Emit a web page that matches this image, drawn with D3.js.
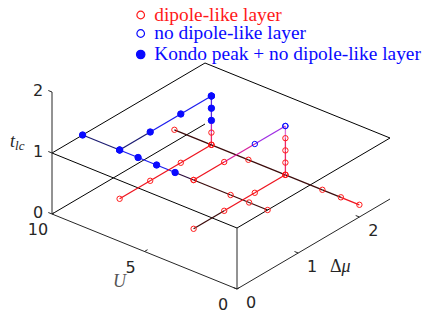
<!DOCTYPE html>
<html>
<head>
<meta charset="utf-8">
<script src="https://cdn.jsdelivr.net/npm/d3@7"></script>
<style>
  html, body { margin: 0; padding: 0; background: #fff; }
  svg { display: block; }
</style>
</head>
<body>
<svg id="chart" width="432" height="310"></svg>
<script>
// phase diagram in (U, Δμ, t_lc) — orthographic 3D view

const U_DOMAIN = [0, 10];
const DMU_DOMAIN = [0, 2.5];
const T_DOMAIN = [0, 2];
const U_TICKS = [0, 5, 10];
const DMU_TICKS = [0, 1, 2];
const T_TICKS = [0, 1, 2];

// state codes: d = dipole-like layer, n = no dipole-like layer, k = Kondo peak + no dipole-like layer
const LEGEND_STATES = ['d', 'n', 'k'];
const LEGEND_LABELS = ['dipole-like layer', 'no dipole-like layer', 'Kondo peak + no dipole-like layer'];

// t_lc = 1, Δμ = 0.5, along U
const cutA_U = [10, 8, 7, 6, 5, 4, 2, 1, 0];
const cutA_state = ['k', 'k', 'k', 'k', 'k', 'd', 'd', 'd', 'd'];
// t_lc = 1, U = 8, along Δμ
const cutB_dmu = [0.5, 1, 1.5, 2];
const cutB_state = ['k', 'k', 'k', 'k'];
// U = 8, Δμ = 2, along t_lc
const cutC_t = [1, 0.8, 0.6, 0.4, 0.2];
const cutC_state = ['k', 'k', 'k', 'd', 'd'];
// t_lc = 0.2, U = 8, along Δμ
const cutD_dmu = [0.5, 1, 1.5, 2];
const cutD_state = ['d', 'd', 'd', 'd'];
// t_lc = 0.2, Δμ = 2, along U
const cutE_U = [10, 8, 6, 4, 2, 1, 0];
const cutE_state = ['d', 'd', 'd', 'd', 'd', 'd', 'd'];
// t_lc = 1, U = 4, along Δμ
const cutF_dmu = [0.5, 1, 1.5, 2];
const cutF_state = ['d', 'd', 'n', 'n'];
// U = 4, Δμ = 2, along t_lc
const cutG_t = [1, 0.8, 0.6, 0.4, 0.2];
const cutG_state = ['n', 'd', 'd', 'd', 'd'];
// t_lc = 0.2, U = 4, along Δμ
const cutH_dmu = [0.5, 1, 1.5, 2];
const cutH_state = ['d', 'd', 'd', 'd'];

const svg = d3.select('#chart');

// projection
const O = [237, 289];
const uX = d3.scaleLinear().domain(U_DOMAIN).range([0, -185]);
const uY = d3.scaleLinear().domain(U_DOMAIN).range([0, -75]);
const dX = d3.scaleLinear().domain(DMU_DOMAIN).range([0, 153]);
const dY = d3.scaleLinear().domain(DMU_DOMAIN).range([0, -90]);
const tY = d3.scaleLinear().domain(T_DOMAIN).range([0, -122]);
const P = (u, m, t) => [O[0] + uX(u) + dX(m), O[1] + uY(u) + dY(m) + tY(t)];

const line = d3.line();
const AX = '#262626';

// frame: t_lc = 1 plane and back floor edge
const Umax = U_DOMAIN[1], Mmax = DMU_DOMAIN[1];
const frame = [
  [[0, 0, 1], [Umax, 0, 1]],
  [[Umax, 0, 1], [Umax, Mmax, 1]],
  [[Umax, Mmax, 1], [0, Mmax, 1]],
  [[0, Mmax, 1], [0, 0, 1]],
  [[Umax, 0, 0], [Umax, Mmax, 0]]
];
svg.append('g').selectAll('path')
  .data(frame)
  .join('path')
  .attr('d', d => line(d.map(p => P(...p))))
  .attr('fill', 'none').attr('stroke', '#000').attr('stroke-width', 1);

const axes = [
  [[0, 0, 0], [Umax, 0, 0]],
  [[0, 0, 0], [0, Mmax, 0]],
  [[Umax, 0, 0], [Umax, 0, T_DOMAIN[1]]],
  [[0, 0, 0], [0, 0, 1]]
];
svg.append('g').selectAll('path')
  .data(axes)
  .join('path')
  .attr('d', d => line(d.map(p => P(...p))))
  .attr('fill', 'none').attr('stroke', AX).attr('stroke-width', 1);

// ticks
const ticks = [
  ...U_TICKS.map(u => [P(u, 0, 0), P(u, 0.05, 0)]),
  ...DMU_TICKS.map(m => [P(0, m, 0), P(0.2, m, 0)]),
  ...T_TICKS.map(t => [P(Umax, 0, t), P(Umax + 0.2, 0, t)])
];
svg.append('g').selectAll('path')
  .data(ticks)
  .join('path')
  .attr('d', d => line(d))
  .attr('stroke', AX).attr('stroke-width', 1);

const tickFont = '"DejaVu Sans", sans-serif';
const tickLabels = [
  ...U_TICKS.map(u => ({ p: P(u, 0, 0), dx: -14, dy: 15.5, s: u })),
  ...DMU_TICKS.map(m => ({ p: P(0, m, 0), dx: 14, dy: 13.5, s: m })),
  ...T_TICKS.map(t => ({ p: P(Umax, 0, t), dx: -14, dy: -2, s: t }))
];
svg.append('g').selectAll('text')
  .data(tickLabels)
  .join('text')
  .attr('x', d => d.p[0] + d.dx)
  .attr('y', d => d.p[1] + d.dy + 5.8)
  .attr('text-anchor', 'middle')
  .attr('font-family', tickFont)
  .attr('font-size', 16)
  .attr('fill', AX)
  .text(d => d.s);

// axis labels
const serif = '"Liberation Serif", "Times New Roman", serif';
const tl = svg.append('text').attr('x', 10).attr('y', 147)
  .attr('font-family', serif).attr('font-size', 18).attr('fill', AX);
tl.append('tspan').attr('font-style', 'italic').text('t');
tl.append('tspan').attr('font-style', 'italic').attr('font-size', 13).attr('dy', 3).text('lc');

svg.append('text').attr('x', 113).attr('y', 287)
  .attr('font-family', serif).attr('font-size', 18).attr('font-style', 'italic')
  .attr('fill', '#555').text('U');

const dm = svg.append('text').attr('x', 330).attr('y', 272)
  .attr('font-family', serif).attr('font-size', 18).attr('fill', AX);
dm.append('tspan').text('Δ');
dm.append('tspan').attr('font-style', 'italic').text('μ');

// data cuts
const cuts = [
  { pts: cutA_U.map((u, i) => [u, 0.5, 1, cutA_state[i]]), dark: [0, 4, 5, 6, 7] },
  { pts: cutB_dmu.map((m, i) => [8, m, 1, cutB_state[i]]), dark: [0] },
  { pts: cutC_t.map((t, i) => [8, 2, t, cutC_state[i]]), vert: true },
  { pts: cutD_dmu.map((m, i) => [8, m, 0.2, cutD_state[i]]) },
  { pts: cutE_U.map((u, i) => [u, 2, 0.2, cutE_state[i]]), dark: [0, 1, 2, 3, 4] },
  { pts: cutF_dmu.map((m, i) => [4, m, 1, cutF_state[i]]) },
  { pts: cutG_t.map((t, i) => [4, 2, t, cutG_state[i]]), vert: true },
  { pts: cutH_dmu.map((m, i) => [4, m, 0.2, cutH_state[i]]), dark: [0] }
];

function segColor(a, b, dark, vert) {
  const k = [a, b].sort().join('');
  if (vert) {
    if (k === 'kk') return '#5a28e0';
    if (k === 'dk') return '#c02cc0';
    if (k === 'dn') return '#e070d8';
    return '#ee2a68';
  }
  if (k === 'kk') return dark ? '#1c1c72' : '#1e1eee';
  if (k === 'dd') return dark ? '#3c0c0c' : '#ee1520';
  if (k === 'dk') return '#2c0c3c';
  if (k === 'dn') return '#d6229c';
  return '#a030e4';
}

const segs = [];
cuts.forEach(c => {
  for (let i = 0; i < c.pts.length - 1; i++) {
    const a = c.pts[i], b = c.pts[i + 1];
    segs.push({
      a: P(a[0], a[1], a[2]), b: P(b[0], b[1], b[2]),
      col: segColor(a[3], b[3], (c.dark || []).includes(i), c.vert)
    });
  }
});
svg.append('g').selectAll('line')
  .data(segs)
  .join('line')
  .attr('x1', d => d.a[0]).attr('y1', d => d.a[1])
  .attr('x2', d => d.b[0]).attr('y2', d => d.b[1])
  .attr('stroke', d => d.col).attr('stroke-width', 1.3);

const RED = '#ff1a1a', BLUE = '#0a0aff';
const pts = cuts.flatMap(c => c.pts.map(p => ({ p: P(p[0], p[1], p[2]), s: p[3] })));
svg.append('g').selectAll('circle')
  .data(pts)
  .join('circle')
  .attr('cx', d => d.p[0]).attr('cy', d => d.p[1])
  .attr('r', d => d.s === 'k' ? 3.2 : 2.7)
  .attr('fill', d => d.s === 'k' ? BLUE : 'none')
  .attr('stroke', d => d.s === 'd' ? RED : BLUE)
  .attr('stroke-width', 1);

// legend
const legY = [15, 33.5, 54.5];
const leg = svg.append('g').selectAll('g')
  .data(LEGEND_STATES)
  .join('g')
  .attr('transform', (d, i) => `translate(140.7,${legY[i]})`);
leg.append('circle')
  .attr('r', d => d === 'k' ? 4.2 : 3.8)
  .attr('fill', d => d === 'k' ? BLUE : 'none')
  .attr('stroke', d => d === 'd' ? RED : BLUE)
  .attr('stroke-width', 1.2);
leg.append('text')
  .attr('x', 13.5).attr('y', 5.5)
  .attr('font-family', serif).attr('font-size', 19.4)
  .attr('fill', d => d === 'd' ? RED : BLUE)
  .text((d, i) => LEGEND_LABELS[i]);
</script>
</body>
</html>
